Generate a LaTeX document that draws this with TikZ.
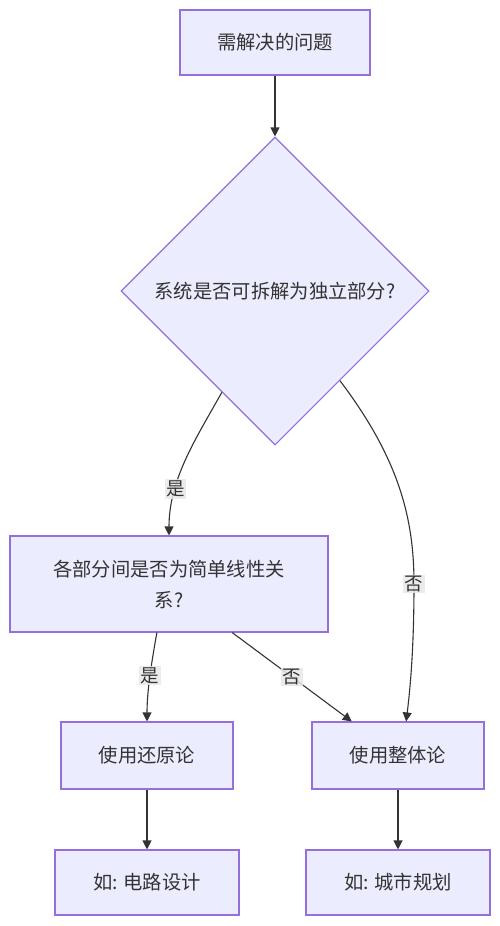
\documentclass[tikz,border=0pt]{standalone}
\usepackage{fontspec}
\setmainfont{Noto Sans CJK SC}
\usetikzlibrary{shapes.geometric,arrows.meta,calc}
\definecolor{boxfill}{HTML}{ECECFF}
\definecolor{boxline}{HTML}{9370DB}
\definecolor{edgecol}{HTML}{333333}
\definecolor{lblbg}{HTML}{E8E8E8}
\definecolor{txtcol}{HTML}{333333}
\begin{document}
\begin{tikzpicture}[x=1pt,y=-1pt,
  box/.style={draw=boxline,fill=boxfill,line width=1.1pt,inner sep=0pt,align=center,
    text=txtcol,font=\fontsize{19.3}{31}\selectfont},
  dia/.style={box,diamond,aspect=1,minimum width=308pt,minimum height=308pt},
  edge/.style={draw=edgecol,line width=1.1pt,-{Triangle[length=9pt,width=9pt]}},
  lbl/.style={fill=lblbg,fill opacity=0.85,text opacity=1,text=txtcol,inner sep=1.5pt,
    font=\fontsize{18.5}{20}\selectfont}]
\useasboundingbox (0,0) rectangle (500,926);
\fill[white] (0,0) rectangle (500,926);
\node[box,minimum width=190pt,minimum height=65pt] (a) at (275,42.5) {需解决的问题};
\node[dia] (d) at (275,291) {系统是否可拆解为独立部分?};
\node[box,minimum width=318pt,minimum height=96pt] (b) at (169,584) {各部分间是否为简单线性关\\系?};
\node[box,minimum width=172pt,minimum height=67pt] (r) at (147,755.5) {使用还原论};
\node[box,minimum width=172pt,minimum height=67pt] (h) at (398,755.5) {使用整体论};
\node[box,minimum width=184pt,minimum height=65pt] (e1) at (147,882.5) {如: 电路设计};
\node[box,minimum width=184pt,minimum height=65pt] (e2) at (398,882.5) {如: 城市规划};
\coordinate (dl) at ($(d.west)!0.656!(d.south)$);
\coordinate (dr) at ($(d.south)!0.42!(d.east)$);
\coordinate (bl) at ($(b.south west)!0.462!(b.south east)$);
\coordinate (br) at ($(b.south west)!0.698!(b.south east)$);
\coordinate (hl) at ($(h.north west)!0.233!(h.north east)$);
\coordinate (hr) at ($(h.north west)!0.547!(h.north east)$);
\draw[edge] (a) -- (d.north);
\draw[edge] (dl) .. controls (195,440) and (169,480) .. node[lbl,pos=0.7]{是} (b.north);
\draw[edge] (dr) .. controls (400,460) and (414,520) .. (414,584) node[lbl]{否}
  .. controls (414,650) and (410,690) .. (hr);
\draw[edge] (bl) .. controls (152,660) and (147,690) .. node[lbl,pos=0.5]{是} (r.north);
\draw[edge] (br) -- node[lbl,pos=0.5]{否} (hl);
\draw[edge] (r) -- (e1);
\draw[edge] (h) -- (e2);
\end{tikzpicture}
\end{document}
